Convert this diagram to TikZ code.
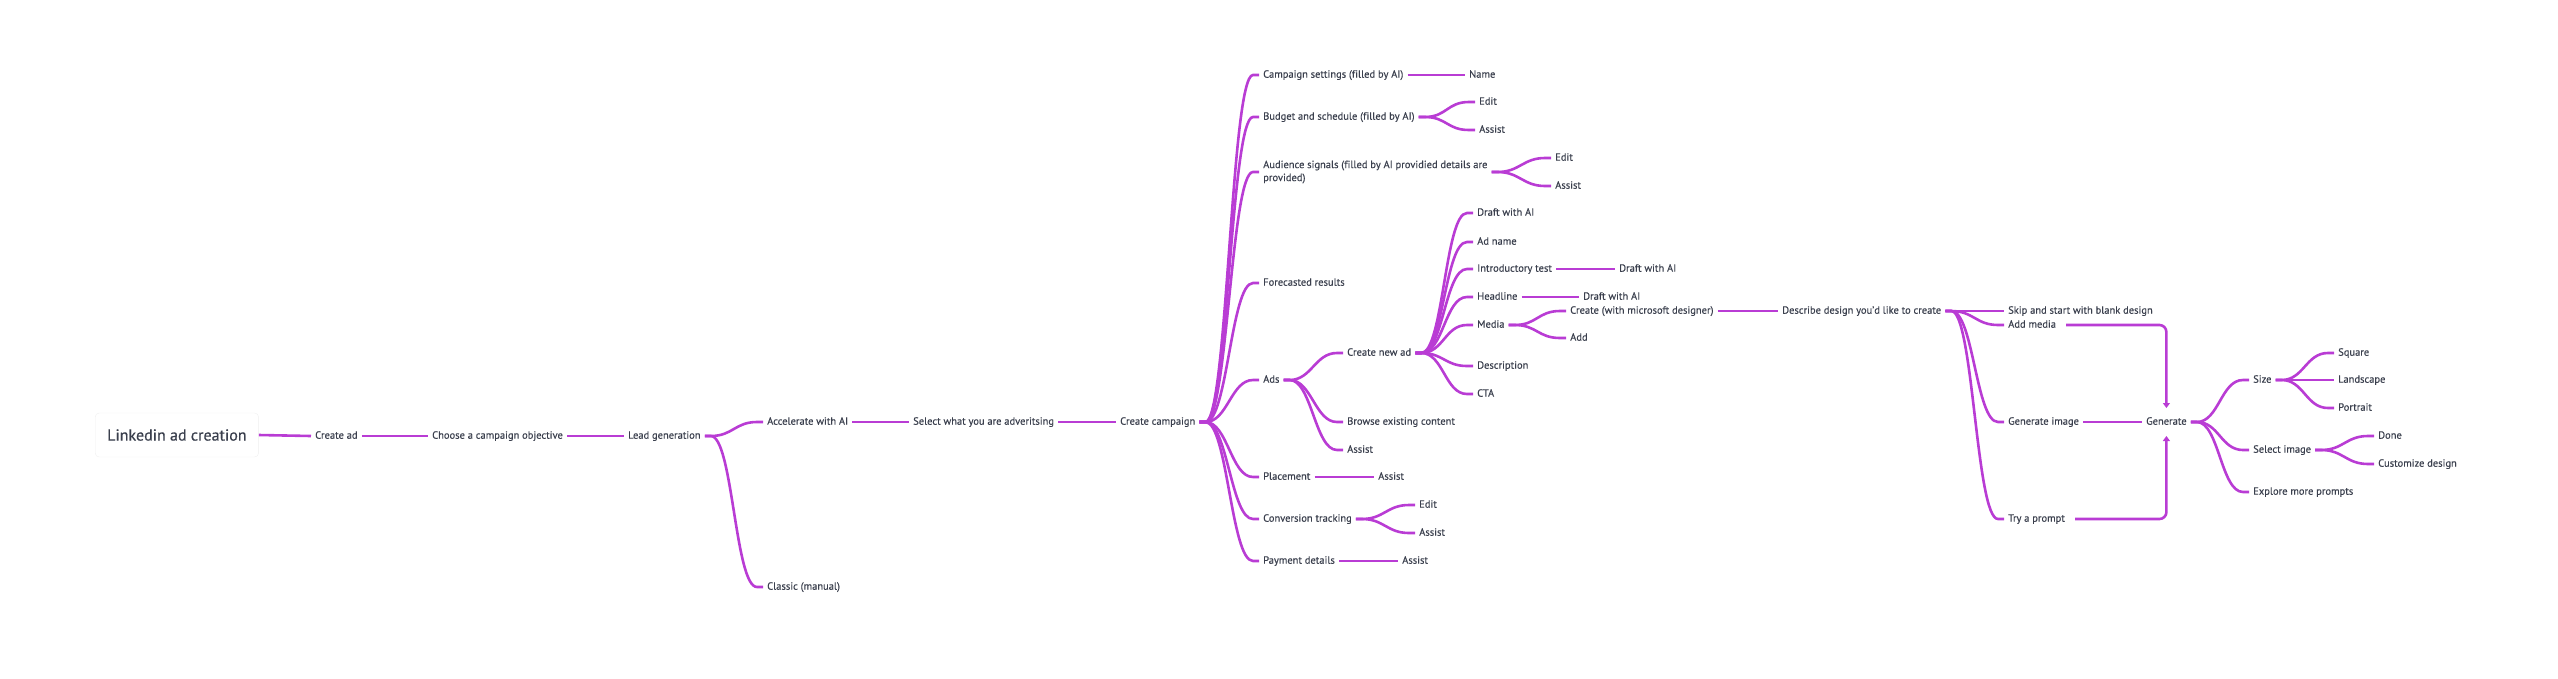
\documentclass[tikz,border=0pt]{standalone}
\usepackage{fontspec}
\setmainfont{PT Sans}
\newfontfamily\lblfont{PT Sans}[FakeBold=0.35,Ligatures=NoCommon]
\usetikzlibrary{arrows.meta,calc}

\definecolor{linkcol}{HTML}{B93CD4}
\definecolor{txtcol}{HTML}{3A3F4D}

\tikzset{
  plain/.style={anchor=west, inner xsep=4pt, inner ysep=2pt, text=txtcol,
    font=\lblfont\fontsize{10.5}{13}\selectfont},
  txt/.style={plain, text height=7.5pt, text depth=2.1pt},
  link/.style={draw=linkcol, line width=2.6pt},
  branch/.style={link, to path={-- ++(6,0) .. controls +(22,0) and +(-22,0)
      .. ($(\tikztotarget)+(-6,0)$) -- (\tikztotarget)}},
  flow/.style={link, rounded corners=7pt, shorten >=7pt,
    -{Triangle[width=7pt,length=5pt]}},
}

\begin{document}
\begin{tikzpicture}[x=1pt,y=-1pt]
      \useasboundingbox (0,0) rectangle (2558,678);
      % main line
      \node[anchor=west, draw=black!6, fill=white, rounded corners=4pt, inner xsep=12pt,
        minimum height=44pt, text=txtcol, font=\lblfont\fontsize{16}{18}\selectfont] (root) at (95,435) {Linkedin ad creation};
      \node[txt] (createad) at (311,436) {Create ad};
      \node[txt] (objective) at (428,436) {Choose a campaign objective};
      \node[txt] (leadgen) at (624,436) {Lead generation};
      \node[txt] (accel) at (763,422) {Accelerate with AI};
      \node[txt] (classic) at (763,587) {Classic (manual)};
      \node[txt] (select) at (909,422) {Select what you are adveritsing};
      \node[txt] (campaign) at (1116,422) {Create campaign};
      % campaign steps
      \node[txt] (settings) at (1259,75) {Campaign settings (filled by AI)};
      \node[txt] (setname) at (1465,75) {Name};
      \node[txt] (budget) at (1259,117) {Budget and schedule (filled by AI)};
      \node[txt] (budedit) at (1475,102) {Edit};
      \node[txt] (budassist) at (1475,130) {Assist};
      \node[plain, align=left] (audience) at (1259,172) {Audience signals (filled by AI providied details are\\provided)};
      \node[txt] (audedit) at (1551,158) {Edit};
      \node[txt] (audassist) at (1551,186) {Assist};
      \node[txt] (forecast) at (1259,283) {Forecasted results};
      \node[txt] (ads) at (1259,380) {Ads};
      \node[txt] (newad) at (1343,353) {Create new ad};
      \node[txt] (draft) at (1473,213) {Draft with AI};
      \node[txt] (adname) at (1473,242) {Ad name};
      \node[txt] (intro) at (1473,269) {Introductory test};
      \node[txt] (introdraft) at (1615,269) {Draft with AI};
      \node[txt] (headline) at (1473,297) {Headline};
      \node[txt] (headdraft) at (1579,297) {Draft with AI};
      \node[txt] (media) at (1473,325) {Media};
      \node[txt] (designer) at (1566,311) {Create (with microsoft designer)};
      \node[txt] (addfile) at (1566,338) {Add};
      \node[txt] (descr) at (1473,366) {Description};
      \node[txt] (cta) at (1473,394) {CTA};
      \node[txt] (browse) at (1343,422) {Browse existing content};
      \node[txt] (adsassist) at (1343,450) {Assist};
      \node[txt] (placement) at (1259,477) {Placement};
      \node[txt] (plassist) at (1374,477) {Assist};
      \node[txt] (conversion) at (1259,519) {Conversion tracking};
      \node[txt] (convedit) at (1415,505) {Edit};
      \node[txt] (convassist) at (1415,533) {Assist};
      \node[txt] (payment) at (1259,561) {Payment details};
      \node[txt] (payassist) at (1398,561) {Assist};
      % designer
      \node[txt] (describe) at (1778,311) {Describe design you’d like to create};
      \node[txt] (skip) at (2004,311) {Skip and start with blank design};
      \node[txt] (addmedia) at (2004,325) {Add media};
      \node[txt] (genimage) at (2004,422) {Generate image};
      \node[txt] (tryprompt) at (2004,519) {Try a prompt};
      \node[txt] (generate) at (2142,422) {Generate};
      \node[txt] (size) at (2249,380) {Size};
      \node[txt] (square) at (2334,353) {Square};
      \node[txt] (landscape) at (2334,380) {Landscape};
      \node[txt] (portrait) at (2334,408) {Portrait};
      \node[txt] (selimage) at (2249,450) {Select image};
      \node[txt] (done) at (2374,436) {Done};
      \node[txt] (customize) at (2374,464) {Customize design};
      \node[txt] (explore) at (2249,492) {Explore more prompts};

      \draw[link] (root.east) -- (createad.west);
      \draw[link] (createad.east) -- (objective.west);
      \draw[link] (objective.east) -- (leadgen.west);
      \foreach \c in {accel,classic}
        \draw[branch] (leadgen.east) to (\c.west);
      \draw[link] (accel.east) -- (select.west);
      \draw[link] (select.east) -- (campaign.west);
      \foreach \c in {settings,budget,audience,forecast,ads,placement,conversion,payment}
        \draw[branch] (campaign.east) to (\c.west);
      \draw[link] (settings.east) -- (setname.west);
      \foreach \c in {budedit,budassist}
        \draw[branch] (budget.east) to (\c.west);
      \foreach \c in {audedit,audassist}
        \draw[branch] (audience.east) to (\c.west);
      \foreach \c in {newad,browse,adsassist}
        \draw[branch] (ads.east) to (\c.west);
      \foreach \c in {draft,adname,intro,headline,media,descr,cta}
        \draw[branch] (newad.east) to (\c.west);
      \draw[link] (intro.east) -- (introdraft.west);
      \draw[link] (headline.east) -- (headdraft.west);
      \foreach \c in {designer,addfile}
        \draw[branch] (media.east) to (\c.west);
      \draw[link] (placement.east) -- (plassist.west);
      \foreach \c in {convedit,convassist}
        \draw[branch] (conversion.east) to (\c.west);
      \draw[link] (payment.east) -- (payassist.west);
      \draw[link] (designer.east) -- (describe.west);
      \foreach \c in {skip,addmedia,genimage,tryprompt}
        \draw[branch] (describe.east) to (\c.west);
      \draw[flow, shorten <=6pt] (addmedia.east) -| (generate.north);
      \draw[flow, shorten <=6pt] (tryprompt.east) -| (generate.south);
      \draw[link] (genimage.east) -- (generate.west);
      \foreach \c in {size,selimage,explore}
        \draw[branch] (generate.east) to (\c.west);
      \foreach \c in {square,landscape,portrait}
        \draw[branch] (size.east) to (\c.west);
      \foreach \c in {done,customize}
        \draw[branch] (selimage.east) to (\c.west);
\end{tikzpicture}
\end{document}
